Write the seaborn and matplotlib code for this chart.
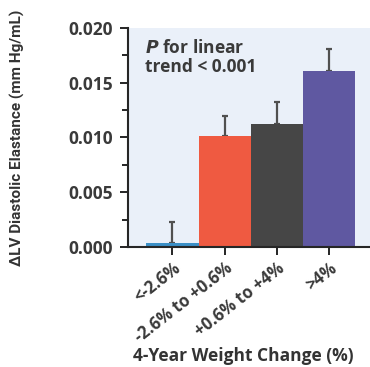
import matplotlib
matplotlib.use("Agg")
import matplotlib.pyplot as plt
import seaborn as sns
import pandas as pd
from matplotlib.ticker import MultipleLocator

categories = ["<-2.6%", "-2.6% to +0.6%", "+0.6% to +4%", ">4%"]
values = [0.0004, 0.0101, 0.0112, 0.0161]
err_upper = [0.0019, 0.0019, 0.0020, 0.0020]
colors = ["#3b8fc6", "#ef5a41", "#464646", "#5f58a1"]
yticks = [0.000, 0.005, 0.010, 0.015, 0.020]

sns.set_style("ticks")
plt.rcParams['font.family'] = ['Open Sans', 'DejaVu Sans']

df = pd.DataFrame({"cat": categories, "val": values})

fig = plt.figure(figsize=(3.7, 3.67), dpi=100)
ax = fig.add_axes([128/370, 1 - 247/367, 1 - 128/370 + 0.01, (247 - 28)/367])
ax.set_facecolor("#eaf0f9")

sns.barplot(data=df, x="cat", y="val", hue="cat", palette=colors, width=1.0,
            legend=False, ax=ax, saturation=1, zorder=2, linewidth=0)
ax.errorbar(range(len(categories)), values, yerr=[[0]*4, err_upper], fmt="none",
            ecolor="#505050", elinewidth=1.6, capsize=2.5, capthick=1.6, zorder=1)

ax.set_xlim(-0.85, 3.85)
ax.set_ylim(0, 0.020)
ax.set_yticks(yticks)
ax.set_yticklabels([f"{t:.3f}" for t in yticks])
ax.yaxis.set_minor_locator(MultipleLocator(0.0025))
ax.tick_params(axis="y", which="major", length=6, width=1.2, colors="black", labelcolor="#3a3a3a",
               labelsize=12.5, pad=5)
ax.tick_params(axis="y", which="minor", length=4, width=1.2, colors="black")
ax.tick_params(axis="x", length=6, width=1.2, colors="black", labelcolor="#3a3a3a", labelsize=12, pad=3)
for lab in ax.get_yticklabels():
    lab.set_fontweight("bold")
ax.set_xticks(range(len(categories)))
ax.set_xticklabels(categories, rotation=38, ha="right", rotation_mode="anchor", fontweight="bold")

sns.despine(ax=ax)
ax.spines["left"].set_linewidth(1.5)
ax.spines["bottom"].set_linewidth(1.5)

ax.set_ylabel("ΔLV Diastolic Elastance (mm Hg/mL)", fontsize=11, fontweight="bold",
              color="#333333", family=["Roboto", "DejaVu Sans"])
ax.yaxis.set_label_coords(-0.42, 0.5)
ax.set_xlabel("4-Year Weight Change (%)", fontsize=12.5, fontweight="bold", color="#333333",
              ha="left")
ax.xaxis.set_label_coords(0.02, -0.455)

ax.text(0.07, 0.95, "$\\bfit{P}$ for linear\ntrend < 0.001", transform=ax.transAxes,
        fontsize=12.5, fontweight="bold", color="#3a3a3a", va="top", ha="left", linespacing=1.05)

fig.savefig("out.png", dpi=100)
